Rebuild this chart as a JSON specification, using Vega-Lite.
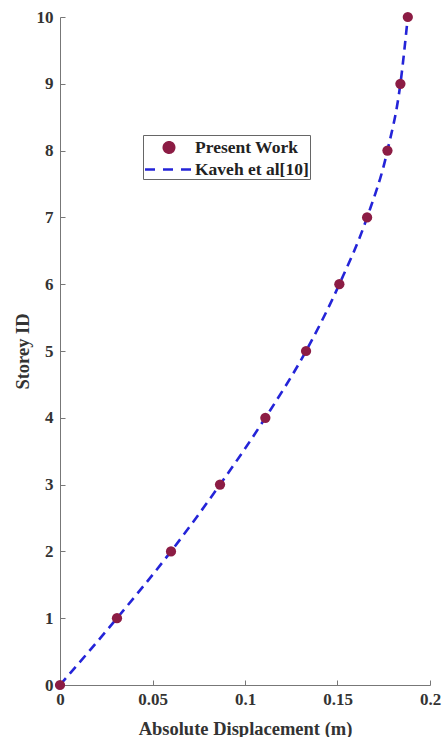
{
  "$schema": "https://vega.github.io/schema/vega-lite/v6.json",
  "autosize": "none",
  "width": 370,
  "height": 668,
  "padding": {"left": 60, "top": 17, "right": 18, "bottom": 52},
  "background": "white",
  "config": {
    "view": {"stroke": null},
    "font": "Liberation Serif",
    "axis": {
      "grid": false,
      "domainColor": "#777",
      "tickColor": "#777",
      "tickSize": -5,
      "labelFlush": false,
      "labelOverlap": false,
      "labelFont": "Liberation Serif",
      "labelFontWeight": "bold",
      "labelFontSize": 17,
      "labelColor": "#333",
      "titleFont": "Liberation Serif",
      "titleFontWeight": "bold",
      "titleFontSize": 18.5,
      "titleColor": "#333"
    }
  },
  "data": {
    "values": [
      {"series": "Present Work", "storey": 0, "disp": 0.0},
      {"series": "Present Work", "storey": 1, "disp": 0.0308},
      {"series": "Present Work", "storey": 2, "disp": 0.0600},
      {"series": "Present Work", "storey": 3, "disp": 0.0865},
      {"series": "Present Work", "storey": 4, "disp": 0.1110},
      {"series": "Present Work", "storey": 5, "disp": 0.1330},
      {"series": "Present Work", "storey": 6, "disp": 0.1510},
      {"series": "Present Work", "storey": 7, "disp": 0.1660},
      {"series": "Present Work", "storey": 8, "disp": 0.1770},
      {"series": "Present Work", "storey": 9, "disp": 0.1840},
      {"series": "Present Work", "storey": 10, "disp": 0.1880},
      {"series": "Kaveh et al[10]", "storey": 0, "disp": 0.0},
      {"series": "Kaveh et al[10]", "storey": 1, "disp": 0.0308},
      {"series": "Kaveh et al[10]", "storey": 2, "disp": 0.0600},
      {"series": "Kaveh et al[10]", "storey": 3, "disp": 0.0865},
      {"series": "Kaveh et al[10]", "storey": 4, "disp": 0.1110},
      {"series": "Kaveh et al[10]", "storey": 5, "disp": 0.1330},
      {"series": "Kaveh et al[10]", "storey": 6, "disp": 0.1510},
      {"series": "Kaveh et al[10]", "storey": 7, "disp": 0.1660},
      {"series": "Kaveh et al[10]", "storey": 8, "disp": 0.1770},
      {"series": "Kaveh et al[10]", "storey": 9, "disp": 0.1840},
      {"series": "Kaveh et al[10]", "storey": 10, "disp": 0.1880}
    ]
  },
  "encoding": {
    "x": {
      "field": "disp", "type": "quantitative",
      "scale": {"domain": [0, 0.2], "nice": false, "zero": true},
      "axis": {"values": [0, 0.05, 0.1, 0.15, 0.2], "format": "~g", "title": "Absolute Displacement (m)", "labelPadding": 11, "titlePadding": 12}
    },
    "y": {
      "field": "storey", "type": "quantitative",
      "scale": {"domain": [0, 10], "nice": false},
      "axis": {"values": [0,1,2,3,4,5,6,7,8,9,10], "title": "Storey ID", "labelPadding": 12, "titlePadding": 4}
    }
  },
  "layer": [
    {
      "transform": [{"filter": "datum.series == 'Kaveh et al[10]'"}],
      "mark": {"type": "line", "interpolate": "monotone", "strokeDash": [9, 6], "strokeWidth": 2.6},
      "encoding": {
        "color": {
          "field": "series", "type": "nominal",
          "scale": {"domain": ["Present Work", "Kaveh et al[10]"], "range": ["#8c1c44", "#2424d8"]},
          "legend": {
            "orient": "none", "legendX": 83, "legendY": 118,
            "title": null,
            "strokeColor": "#666", "fillColor": "white",
            "padding": 1,
            "labelFont": "Liberation Serif", "labelFontWeight": "bold", "labelFontSize": 17.5, "labelColor": "#222",
            "symbolSize": 400,
            "symbolStrokeWidth": 2.6,
            "rowPadding": 0,
            "encode": {
              "symbols": {
                "update": {
                  "x": {"value": 25},
                  "shape": {"signal": "datum.value == 'Present Work' ? 'M0,-0.52A0.52,0.52,0,1,1,0,0.52A0.52,0.52,0,1,1,0,-0.52Z' : 'M-2.4,0L2.4,0'"},
                  "fill": {"signal": "datum.value == 'Present Work' ? '#8c1c44' : 'transparent'"},
                  "stroke": {"signal": "datum.value == 'Present Work' ? '#8c1c44' : '#2424d8'"},
                  "strokeDash": {"signal": "datum.value == 'Present Work' ? [1, 0] : [10, 8]"},
                  "opacity": {"value": 1}
                }
              },
              "labels": {
                "update": {
                  "x": {"value": 51}
                }
              }
            }
          }
        }
      }
    },
    {
      "transform": [{"filter": "datum.series == 'Present Work'"}],
      "mark": {"type": "point", "filled": true, "size": 105, "opacity": 1},
      "encoding": {
        "color": {"field": "series", "type": "nominal"}
      }
    }
  ]
}
